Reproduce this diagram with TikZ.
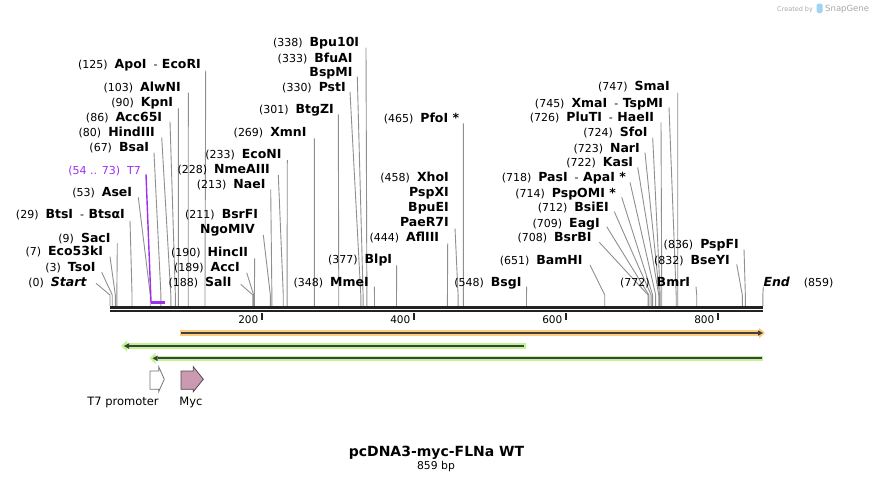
\documentclass[tikz,border=0pt]{standalone}
\usepackage{fontspec}
\setmainfont{DejaVu Sans}
\usetikzlibrary{arrows.meta}

\definecolor{sitegray}{HTML}{8F8F8F}
\definecolor{bbdark}{HTML}{222222}
\definecolor{t7purple}{HTML}{9B30F0}
\definecolor{orfill}{HTML}{FFCB7D}
\definecolor{grfill}{HTML}{BDF590}
\definecolor{fdark}{HTML}{404040}
\definecolor{mycfill}{HTML}{CC99B3}
\definecolor{credgray}{HTML}{A8A8A8}
\definecolor{logoblue}{HTML}{9FD3F0}

\tikzset{
  lab/.style={anchor=base east, inner sep=0pt, yshift=-4.7pt, font=\fontsize{11}{13}\selectfont},
  cutln/.style={draw=sitegray, line width=0.9pt},
  t7ln/.style={draw=t7purple, line width=1.4pt},
  bbone/.style={draw=bbdark},
  tick/.style={draw=bbdark, line width=1.8pt},
  orband/.style={draw=orfill, line width=5.6pt, -{Triangle[length=6pt,width=11pt,line width=0pt]}},
  grband/.style={draw=grfill, line width=5.6pt, -{Triangle[length=6pt,width=11pt,line width=0pt]}},
  fline/.style={draw=fdark, line width=1.8pt, -{Triangle[length=5pt,width=5.5pt,line width=0pt]}},
  ftext/.style={anchor=base, inner sep=0pt, font=\fontsize{11.5}{13}\selectfont}
}

\begin{document}
\begin{tikzpicture}[x=1pt, y=-1pt]
\useasboundingbox (0,0) rectangle (874,482);

\def\gp{\hspace{7pt}}
\def\dsh{\hspace{7pt}-\hspace{4.5pt}}
\def\nm#1{{\fontsize{12.5}{14}\selectfont\bfseries #1}}
% label end -> knee -> site on the backbone
\def\cutsite#1#2#3{\coordinate (#1a) at (#2); \coordinate (#1b) at ({110+0.76*#3},306);
  \draw[cutln] (#1a) -- (#1b |- 0,295) -- (#1b);}

% left group
\node[lab] (st) at (86.7,281.7) {(0)\gp\nm{\itshape Start}};
\cutsite{st}{96,283.3}{0}
\node[lab] (tso) at (95.7,266.7) {(3)\gp\nm{TsoI}};
\cutsite{tso}{101.7,272.3}{3}
\node[lab] (ecok) at (103.3,251) {(7)\gp\nm{Eco53kI}};
\cutsite{ecok}{110,256.7}{7}
\node[lab] (sac) at (110.7,237.3) {(9)\gp\nm{SacI}};
\cutsite{sac}{117.3,243.3}{9}
\node[lab] (bts) at (125,213.3) {(29)\gp\nm{BtsI}\dsh\nm{BtsαI}};
\cutsite{bts}{130,220.7}{29}
\node[lab] (ase) at (132.3,192) {(53)\gp\nm{AseI}};
\cutsite{ase}{138.3,197.3}{53}
\node[lab] (bsa) at (149.3,146.7) {(67)\gp\nm{BsaI}};
\cutsite{bsa}{154,152.7}{67}
\node[lab] (hind) at (155,131.7) {(80)\gp\nm{HindIII}};
\cutsite{hind}{161.7,137.3}{80}
\node[lab] (acc) at (162.3,116.7) {(86)\gp\nm{Acc65I}};
\cutsite{acc}{170,121.7}{86}
\node[lab] (kpn) at (173.3,101.7) {(90)\gp\nm{KpnI}};
\cutsite{kpn}{178.3,108.3}{90}
\node[lab] (alw) at (181,86.7) {(103)\gp\nm{AlwNI}};
\cutsite{alw}{188.3,92.7}{103}
\node[lab] (apo) at (201,64) {(125)\gp\nm{ApoI}\dsh\nm{EcoRI}};
\cutsite{apo}{205.7,70.7}{125}

% T7 primer
\node[lab, text=t7purple] (t7) at (141,169.3) {(54 .. 73)\gp T7};
\coordinate (t7a) at (146,174.3);
\coordinate (t7b) at ({110+0.76*54},302.7);
\coordinate (t7c) at ({110+0.76*73},302.7);
\draw[t7ln] (t7a) -- (t7b);
\draw[t7ln, line width=2.5pt] (t7b) -- (t7c);

% 188 .. 233
\node[lab] (sal) at (231.7,281.7) {(188)\gp\nm{SalI}};
\cutsite{sal}{240.7,284.3}{188}
\node[lab] (acci) at (240,266.7) {(189)\gp\nm{AccI}};
\cutsite{acci}{246.7,272.7}{189}
\node[lab] (hinc) at (248.3,251.7) {(190)\gp\nm{HincII}};
\cutsite{hinc}{254.7,258.3}{190}
\node[lab] (bsrf) at (258.3,213.3) {(211)\gp\nm{BsrFI}};
\node[lab] (ngo) at (255,229) {\nm{NgoMIV}};
\cutsite{bsrf}{263.3,235}{211}
\node[lab] (nae) at (265.7,183.3) {(213)\gp\nm{NaeI}};
\cutsite{nae}{270.7,189.3}{213}
\node[lab] (nme) at (270,168.3) {(228)\gp\nm{NmeAIII}};
\cutsite{nme}{278.3,175}{228}
\node[lab] (econ) at (281.7,154) {(233)\gp\nm{EcoNI}};
\cutsite{econ}{287.3,160}{233}

% middle group
\node[lab] (xmn) at (306.7,131.7) {(269)\gp\nm{XmnI}};
\cutsite{xmn}{314.3,138.3}{269}
\node[lab] (btg) at (334,109) {(301)\gp\nm{BtgZI}};
\cutsite{btg}{338.3,114.3}{301}
\node[lab] (pst) at (346,86.7) {(330)\gp\nm{PstI}};
\cutsite{pst}{350,91.7}{330}
\node[lab] (bfu) at (352.7,57.3) {(333)\gp\nm{BfuAI}};
\node[lab] (bspm) at (352.7,71.7) {\nm{BspMI}};
\cutsite{bfu}{357.3,76.7}{333}
\node[lab] (bpu) at (359.3,41.7) {(338)\gp\nm{Bpu10I}};
\cutsite{bpu}{366,47.7}{338}
\node[lab] (mme) at (369,281.7) {(348)\gp\nm{MmeI}};
\cutsite{mme}{374.3,286.7}{348}
\node[lab] (blp) at (392.3,259) {(377)\gp\nm{BlpI}};
\cutsite{blp}{396.7,265}{377}
\node[lab] (afl) at (439.3,236.7) {(444)\gp\nm{AflIII}};
\cutsite{afl}{447.7,243.3}{444}
\node[lab] (xho) at (449,176.7) {(458)\gp\nm{XhoI}};
\node[lab] (pspx) at (449,191.7) {\nm{PspXI}};
\node[lab] (bpue) at (449,206.7) {\nm{BpuEI}};
\node[lab] (paer) at (449,221.7) {\nm{PaeR7I}};
\cutsite{xho}{455,228.3}{458}
\node[lab] (pfo) at (459.3,117.3) {(465)\gp\nm{PfoI *}};
\cutsite{pfo}{463.3,123.3}{465}
\node[lab] (bsg) at (521.7,281.7) {(548)\gp\nm{BsgI}};
\cutsite{bsg}{526.7,286.7}{548}

% right group
\node[lab] (bam) at (582.7,259.3) {(651)\gp\nm{BamHI}};
\cutsite{bam}{590,265}{651}
\node[lab] (bsrb) at (591.7,236.7) {(708)\gp\nm{BsrBI}};
\cutsite{bsrb}{599.3,242.3}{708}
\node[lab] (eag) at (600,222.3) {(709)\gp\nm{EagI}};
\cutsite{eag}{606.7,226.7}{709}
\node[lab] (bsie) at (609,206.7) {(712)\gp\nm{BsiEI}};
\cutsite{bsie}{614.3,211.7}{712}
\node[lab] (pspo) at (616,192.3) {(714)\gp\nm{PspOMI *}};
\cutsite{pspo}{621.7,197.3}{714}
\node[lab] (pas) at (626,176.7) {(718)\gp\nm{PasI}\dsh\nm{ApaI *}};
\cutsite{pas}{630,182.3}{718}
\node[lab] (kas) at (633.3,161.7) {(722)\gp\nm{KasI}};
\cutsite{kas}{637.7,167.3}{722}
\node[lab] (nar) at (640,147.3) {(723)\gp\nm{NarI}};
\cutsite{nar}{645,152.7}{723}
\node[lab] (sfo) at (647.7,131.7) {(724)\gp\nm{SfoI}};
\cutsite{sfo}{652.7,137.7}{724}
\node[lab] (plu) at (654.3,116.7) {(726)\gp\nm{PluTI}\dsh\nm{HaeII}};
\cutsite{plu}{661,122.3}{726}
\node[lab] (xma) at (663.3,102.3) {(745)\gp\nm{XmaI}\dsh\nm{TspMI}};
\cutsite{xma}{669,107.3}{745}
\node[lab] (sma) at (670,85.7) {(747)\gp\nm{SmaI}};
\cutsite{sma}{677.7,92.7}{747}
\node[lab] (bmr) at (690.3,281.7) {(772)\gp\nm{BmrI}};
\cutsite{bmr}{696,286.7}{772}
\node[lab] (bsey) at (730,259.3) {(832)\gp\nm{BseYI}};
\cutsite{bsey}{736.7,264.3}{832}
\node[lab] (pspf) at (739,244) {(836)\gp\nm{PspFI}};
\cutsite{pspf}{744,249.3}{836}
\node[lab, anchor=base west] (en) at (763.3,281.7) {\nm{\itshape End}\hspace{14pt}(859)};
\cutsite{en}{763.3,286.7}{859}

% backbone and ruler
\coordinate (bbL) at (110,307.3);
\coordinate (bbR) at (763.3,307.3);
\draw[bbone, line width=2.7pt] (bbL) -- (bbR);
\draw[bbone, line width=2.3pt] (bbL |- 0,311.2) -- (bbR |- 0,311.2);
\draw[tick] (262,313) -- (262,319.5);
\draw[tick] (414,313) -- (414,319.5);
\draw[tick] (566,313) -- (566,319.5);
\draw[tick] (718,313) -- (718,319.5);
\node[lab, font=\fontsize{10.5}{12}\selectfont] (r200) at (258.5,319) {200};
\node[lab, font=\fontsize{10.5}{12}\selectfont] (r400) at (410.5,319) {400};
\node[lab, font=\fontsize{10.5}{12}\selectfont] (r600) at (562.5,319) {600};
\node[lab, font=\fontsize{10.5}{12}\selectfont] (r800) at (714.5,319) {800};

% features
\coordinate (orA) at (179.5,333);
\coordinate (orB) at (765,333);
\draw[orband] (orA) -- (orB);
\draw[fline] (181,333) -- (763,333);
\coordinate (gaA) at (525.7,346);
\coordinate (gaB) at (121,346);
\draw[grband] (gaA) -- (gaB);
\draw[fline] (524,346) -- (124,346);
\coordinate (gbA) at (763.3,358.3);
\coordinate (gbB) at (149.5,358.3);
\draw[grband] (gbA) -- (gbB);
\draw[fline] (762,358.3) -- (152.5,358.3);

\filldraw[fill=white, draw=black!55, line width=0.8pt] (150,371) -- (158.7,371) -- (158.7,366.7) -- (164.3,379.2) -- (158.7,391.7) -- (158.7,389.3) -- (150,389.3) -- cycle;
\filldraw[fill=mycfill, draw=black!70, line width=0.8pt] (181,371) -- (193.3,371) -- (193.3,366.7) -- (203.3,379.2) -- (193.3,391.7) -- (193.3,389.3) -- (181,389.3) -- cycle;
\node[ftext] (t7p) at (123,405) {T7 promoter};
\node[ftext] (myc) at (191,405) {Myc};

% title
\node[anchor=base, inner sep=0pt, font=\fontsize{14}{16}\selectfont\bfseries] (title) at (436.5,456) {pcDNA3-myc-FLNa WT};
\node[anchor=base, inner sep=0pt, font=\fontsize{10.8}{12}\selectfont] (len) at (436,469) {859 bp};

% credit
\node[anchor=base west, inner sep=0pt, text=credgray, font=\fontsize{6.5}{8}\selectfont] (cred) at (777,11) {Created by};
\fill[logoblue, rounded corners=1.5pt] (816.5,3.5) rectangle (822.5,13);
\node[anchor=base west, inner sep=0pt, text=credgray, font=\fontsize{8.5}{10}\selectfont] (sg) at (825,11.5) {SnapGene};
\end{tikzpicture}
\end{document}
